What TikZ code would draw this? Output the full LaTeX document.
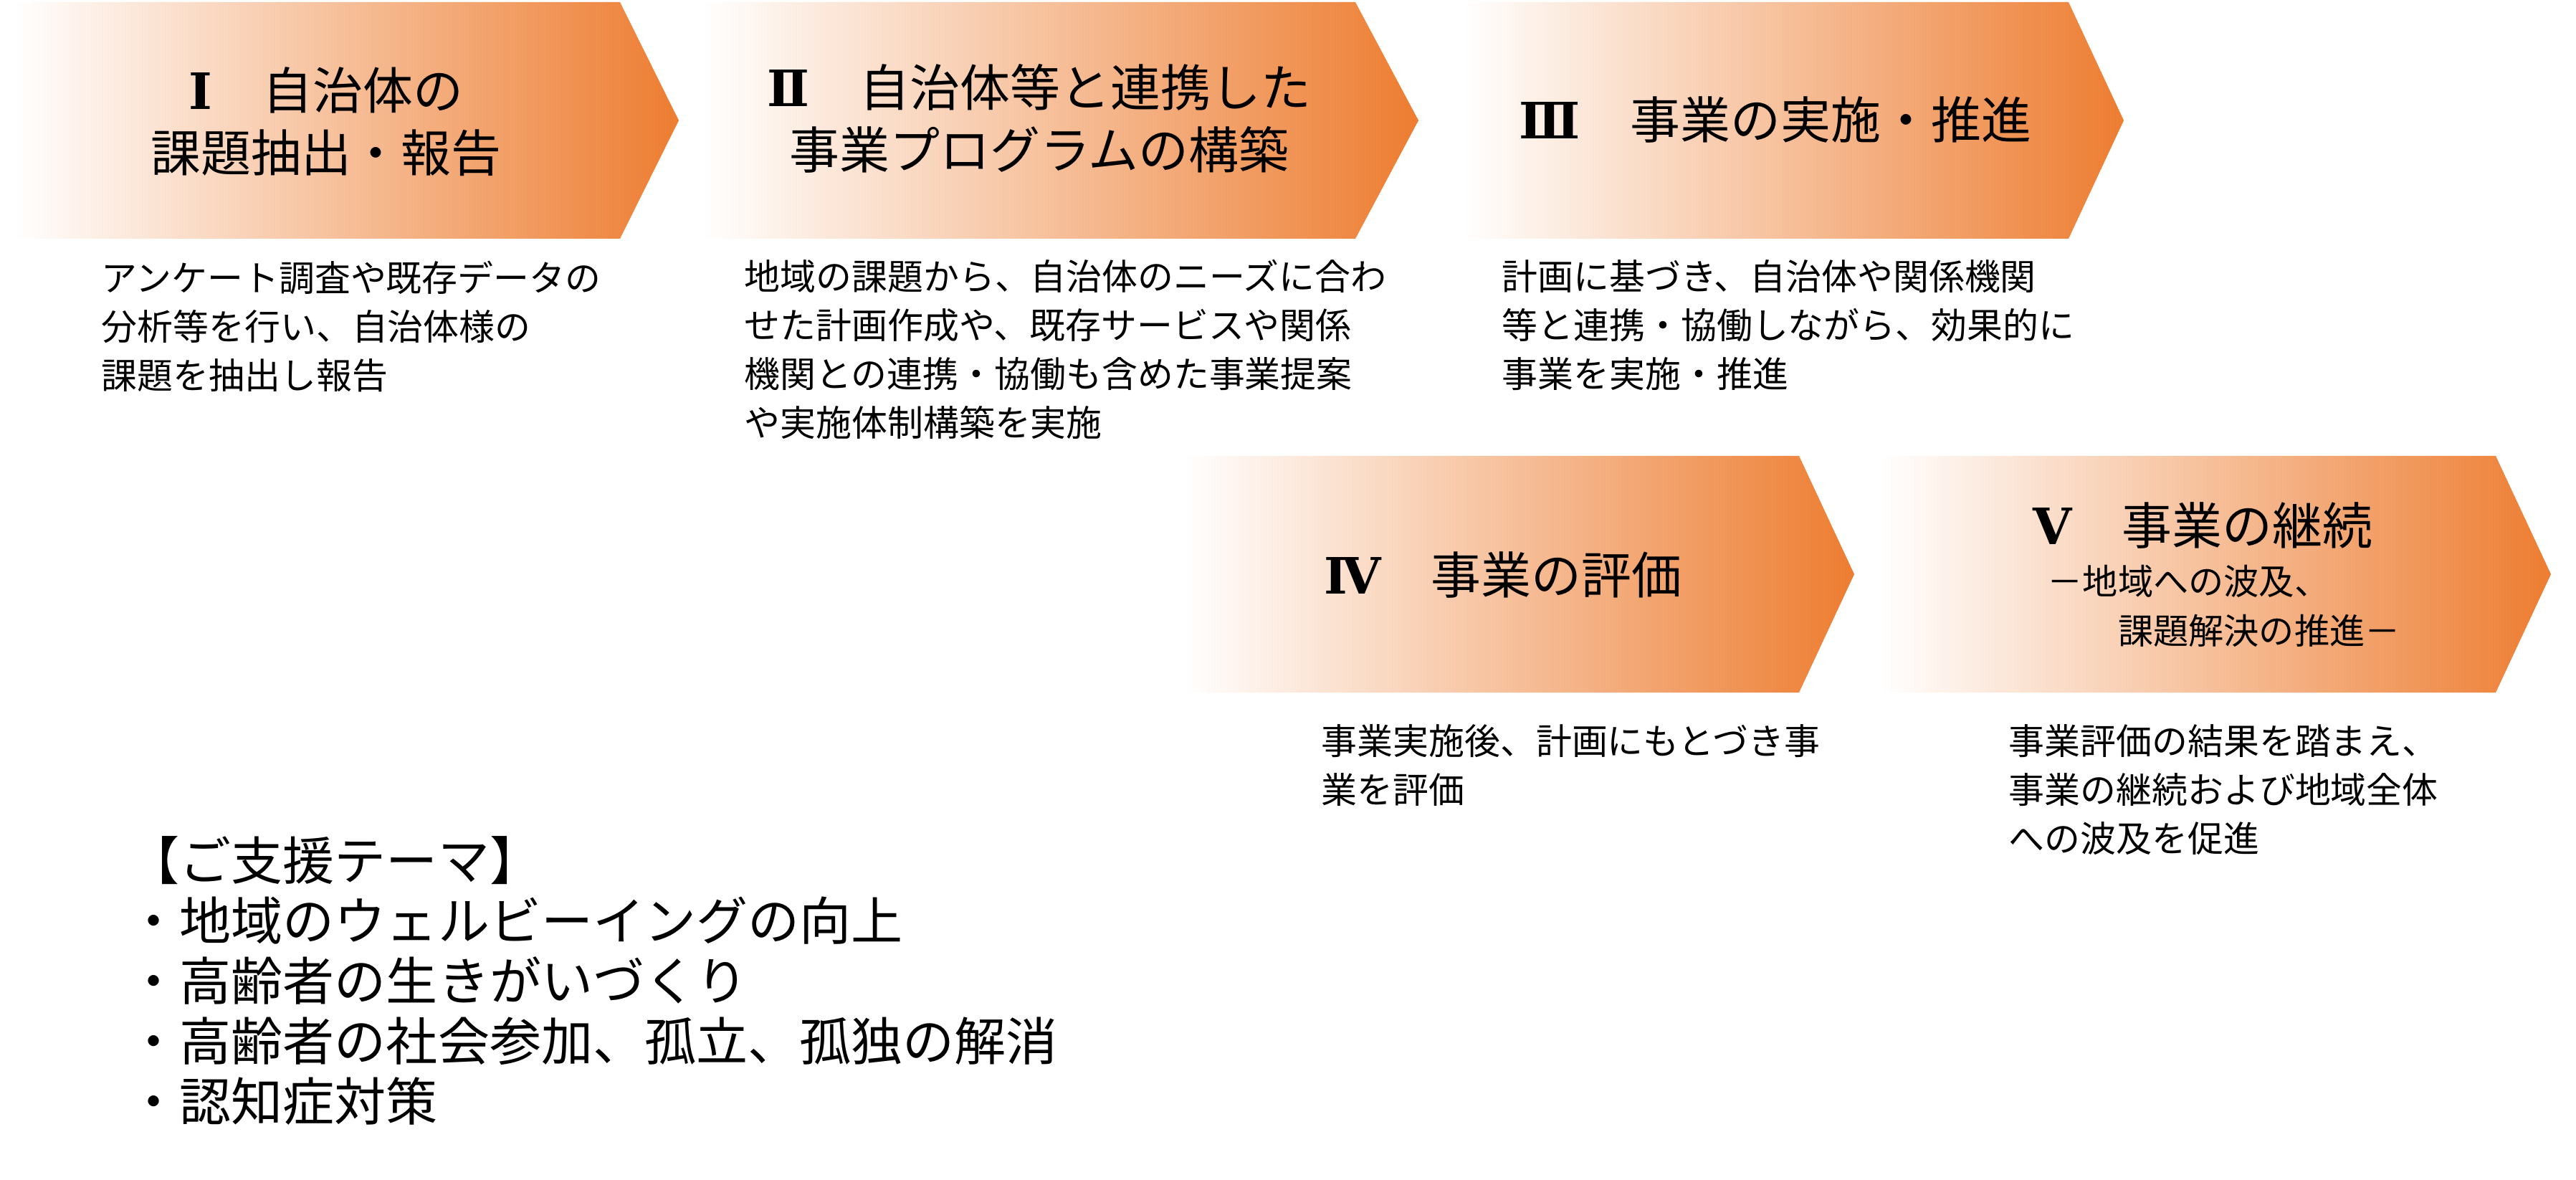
\documentclass[tikz,border=0pt]{standalone}
\usepackage{fontspec}
\setmainfont{Noto Sans CJK JP}
\newfontfamily\romfont{DejaVu Serif}
\definecolor{accent}{HTML}{ED7D31}

\begin{document}
\begin{tikzpicture}[y=-1cm,
        title/.style={align=center, inner sep=0pt, font=\fontsize{19.9}{24.75}\selectfont},
        subtitle/.style={anchor=west, align=left, inner sep=0pt, font=\fontsize{14}{19.6}\selectfont},
        desc/.style={anchor=west, align=left, inner sep=0pt, font=\fontsize{14.2}{19.35}\selectfont},
        theme/.style={anchor=west, align=left, inner sep=0pt, font=\fontsize{20.5}{23.9}\selectfont}]
            \useasboundingbox (0,0) rectangle (35.94,16.46);
            % arrows
            \foreach \l/\s/\t/\y in {0.20/8.65/9.47/0.03, 9.79/18.91/19.79/0.03, 20.40/28.86/29.63/0.03, 16.51/25.10/25.87/6.36, 26.23/34.82/35.59/6.36}
                \shade[left color=white, right color=accent] (\l,\y) -- (\s,\y) -- (\t,\y+1.65) -- (\s,\y+3.3) -- (\l,\y+3.3) -- cycle;
            % titles
            \node[title] (t1) at (4.55,1.70) {{\romfont\bfseries Ⅰ}　自治体の\\課題抽出・報告};
            \node[title] (t2) at (14.50,1.65) {{\romfont\bfseries Ⅱ}　自治体等と連携した\\事業プログラムの構築};
            \node[title] (t3) at (24.77,1.67) {{\romfont\bfseries Ⅲ}　事業の実施・推進};
            \node[title] (t4) at (20.97,8.02) {{\romfont\bfseries Ⅳ}　事業の評価};
            \node[title] (t5) at (30.73,7.33) {{\romfont\bfseries Ⅴ}　事業の継続};
            \node[subtitle] (s5) at (28.56,8.45) {－地域への波及、\\\hspace*{2em}課題解決の推進－};
            % descriptions
            \node[desc] (d1) at (1.41,4.55) {アンケート調査や既存データの\\分析等を行い、自治体様の\\課題を抽出し報告};
            \node[desc] (d2) at (10.38,4.87) {地域の課題から、自治体のニーズに合わ\\せた計画作成や、既存サービスや関係\\機関との連携・協働も含めた事業提案\\や実施体制構築を実施};
            \node[desc] (d3) at (20.95,4.54) {計画に基づき、自治体や関係機関\\等と連携・協働しながら、効果的に\\事業を実施・推進};
            \node[desc] (d4) at (18.43,10.68) {事業実施後、計画にもとづき事\\業を評価};
            \node[desc] (d5) at (28.02,11.02) {事業評価の結果を踏まえ、\\事業の継続および地域全体\\への波及を促進};
            % support themes
            \node[theme] (th) at (1.78,13.68) {【ご支援テーマ】\\・地域のウェルビーイングの向上\\・高齢者の生きがいづくり\\・高齢者の社会参加、孤立、孤独の解消\\・認知症対策};
\end{tikzpicture}
\end{document}
